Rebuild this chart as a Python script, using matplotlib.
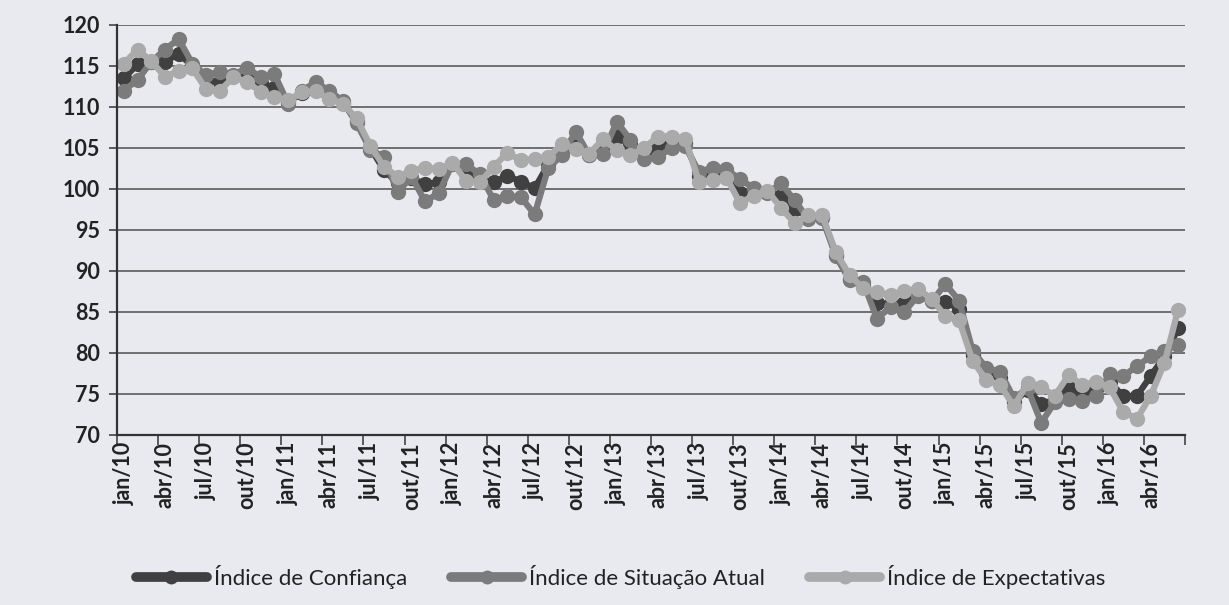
import matplotlib
matplotlib.use("Agg")
import matplotlib.pyplot as plt
import numpy as np

plt.rcParams['font.family'] = ['Lato', 'DejaVu Sans']

# Month labels (every 3 months shown)
tick_labels = ["jan/10", "abr/10", "jul/10", "out/10",
               "jan/11", "abr/11", "jul/11", "out/11",
               "jan/12", "abr/12", "jul/12", "out/12",
               "jan/13", "abr/13", "jul/13", "out/13",
               "jan/14", "abr/14", "jul/14", "out/14",
               "jan/15", "abr/15", "jul/15", "out/15",
               "jan/16", "abr/16"]

# Monthly values jan/10 .. jun/16 (78 months)
confianca = [113.5, 115.2, 115.5, 115.5, 116.5, 115.0, 113.3, 113.0, 113.8, 114.0, 112.9, 112.3,
             110.6, 111.7, 112.3, 111.7, 110.5, 108.3, 105.0, 102.3, 100.7, 101.3, 100.6, 100.8,
             103.0, 102.0, 101.2, 100.8, 101.6, 100.9, 100.1, 103.0, 104.6, 105.6, 104.2, 105.2,
             106.3, 105.5, 104.2, 105.2, 105.6, 105.6, 101.6, 101.9, 101.8, 99.5, 99.6, 99.6,
             99.2, 97.6, 96.6, 96.6, 92.0, 89.0, 88.2, 86.1, 86.0, 86.1, 87.3, 86.4,
             86.2, 85.4, 79.8, 77.5, 77.0, 74.0, 75.5, 73.8, 74.3, 75.7, 75.3, 75.6,
             76.5, 74.7, 74.8, 77.2, 79.6, 83.0]

situacao = [112.0, 113.3, 115.5, 117.0, 118.3, 115.3, 113.9, 114.3, 113.9, 114.8, 113.6, 114.0,
            110.4, 112.0, 113.0, 112.0, 110.7, 108.0, 104.8, 103.9, 99.6, 101.5, 98.5, 99.5,
            103.1, 103.0, 101.8, 98.7, 99.1, 99.0, 96.9, 102.6, 104.1, 107.0, 104.1, 104.3,
            108.2, 106.0, 103.6, 103.9, 105.0, 105.2, 102.1, 102.6, 102.4, 101.2, 100.1, 99.5,
            100.7, 98.6, 96.3, 96.5, 91.8, 88.9, 88.6, 84.2, 85.6, 85.0, 87.0, 86.3,
            88.4, 86.4, 80.2, 78.2, 77.7, 74.5, 75.7, 71.5, 74.0, 74.4, 74.1, 74.8,
            77.4, 77.2, 78.4, 79.6, 80.3, 81.0]

expectativas = [115.3, 117.0, 115.6, 113.7, 114.4, 114.7, 112.2, 112.0, 113.6, 113.1, 111.8, 111.2,
                110.8, 111.8, 111.9, 111.0, 110.4, 108.6, 105.3, 102.7, 101.5, 102.2, 102.6, 102.4,
                103.2, 101.0, 100.8, 102.7, 104.4, 103.5, 103.6, 103.9, 105.5, 104.9, 104.3, 106.1,
                104.7, 104.1, 105.0, 106.4, 106.4, 106.1, 100.9, 101.1, 101.4, 98.3, 99.2, 99.8,
                97.7, 95.8, 96.8, 96.8, 92.3, 89.5, 87.9, 87.4, 87.1, 87.6, 87.8, 86.6,
                84.5, 84.0, 79.0, 76.7, 76.1, 73.5, 76.3, 75.8, 74.8, 77.3, 76.1, 76.5,
                75.8, 72.8, 72.0, 74.8, 78.8, 85.3]

series_names = ["Índice de Confiança", "Índice de Situação Atual", "Índice de Expectativas"]
colors = ["#404040", "#7b7b7b", "#aaaaaa"]

bg = "#e8eaef"
fig = plt.figure(figsize=(12.29, 6.05), dpi=100, facecolor=bg)
ax = fig.add_axes([0.0952, 0.281, 0.869, 0.6777], facecolor=bg)

x = np.arange(len(confianca))
for vals, name, c in zip([confianca, situacao, expectativas], series_names, colors):
    ax.plot(x, vals, color=c, lw=4.5, marker='o', markersize=11,
            markeredgewidth=0, label=name, solid_capstyle='round',
            solid_joinstyle='round')

ax.set_xlim(-0.5, len(x) - 0.5)
ax.set_ylim(70, 120)
ax.set_yticks(np.arange(70, 121, 5))
ax.yaxis.grid(True, color="#5a5a5a", lw=1.2)
ax.set_axisbelow(True)

# major ticks at quarter boundaries (no labels), labels at quarter starts
ax.set_xticks(np.arange(-0.5, len(x), 3))
ax.set_xticklabels([])
ax.set_xticks(np.arange(0, len(x), 3), minor=True)
ax.set_xticklabels(tick_labels, minor=True, rotation=90, fontsize=15.5,
                   fontweight='bold', color="#222222")
ax.tick_params(axis='x', which='major', length=7, width=1.2, color="#444444", direction='out')
ax.tick_params(axis='x', which='minor', length=0, pad=5)
ax.tick_params(axis='y', length=6, width=1.2, color="#444444", labelsize=15.5, pad=6,
               labelcolor="#222222")
for lab in ax.get_yticklabels():
    lab.set_fontweight('bold')

for s in ['top', 'right']:
    ax.spines[s].set_visible(False)
for s in ['left', 'bottom']:
    ax.spines[s].set_color("#333333")
    ax.spines[s].set_linewidth(1.6)

leg = fig.legend(loc='center', bbox_to_anchor=(0.505, 0.046), ncol=3, frameon=False,
                 fontsize=16, handlelength=3.2, columnspacing=2.0, handletextpad=0.3,
                 labelcolor="#222222")
for h in leg.legend_handles:
    h.set_linewidth(7)
    h.set_markersize(10)

fig.savefig("out.png", dpi=100, facecolor=bg)
